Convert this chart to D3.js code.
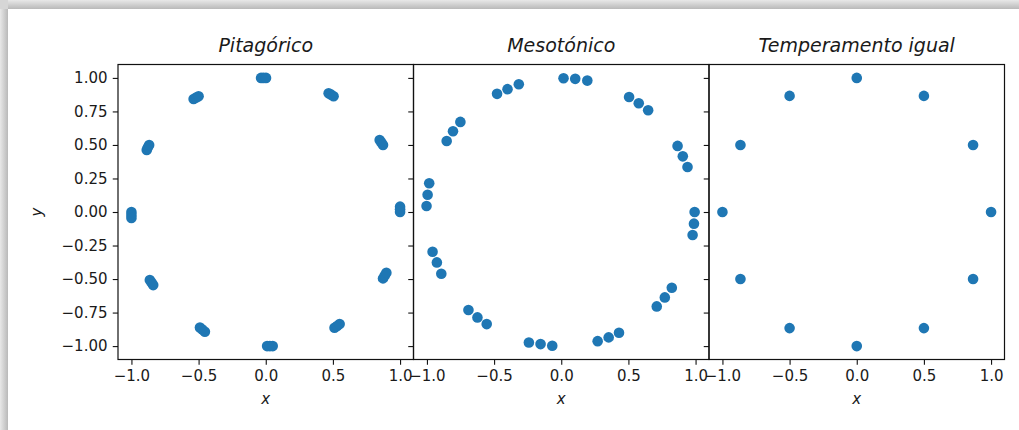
<!DOCTYPE html>
<html><head><meta charset="utf-8">
<script src="https://cdn.jsdelivr.net/npm/d3@7"></script>
<style>
html,body{margin:0;padding:0;background:#fff;}
svg{display:block;}
</style></head>
<body>
<svg id="chart" width="1019" height="430"></svg>
<script>
const panelTitles = ["Pitagórico", "Mesotónico", "Temperamento igual"];

const pitagoricoX = [-0.035,-0.017,0.002, -0.537,-0.518,-0.5, 0.468,0.487,0.505, -0.886,-0.877,-0.868,
  0.848,0.861,0.873, -1.0,-1.0,-1.0, 1.0,1.0,1.0, -0.863,-0.85,-0.838,
  -0.49,-0.472,-0.453, 0.01,0.031,0.052, 0.512,0.531,0.55, 0.873,0.886,0.898];
const pitagoricoY = [1.0,1.0,1.0, 0.843,0.853,0.863, 0.886,0.875,0.863, 0.463,0.482,0.5,
  0.537,0.519,0.5, 0.0,-0.022,-0.045, 0.04,0.02,0.0, -0.507,-0.526,-0.545,
  -0.861,-0.877,-0.893, -1.0,-1.0,-1.0, -0.863,-0.85,-0.836, -0.495,-0.474,-0.453];

const mesotonicoX = [0.017,0.104,0.194, 0.505,0.577,0.647, 0.866,0.905,0.940, 0.993,0.988,0.978,
  0.823,0.771,0.711, 0.43,0.353,0.271, -0.067,-0.154,-0.241, -0.555,-0.624,-0.691,
  -0.893,-0.926,-0.958, -1.003,-0.995,-0.983, -0.853,-0.806,-0.751, -0.478,-0.4,-0.316];
const mesotonicoY = [0.998,0.993,0.980, 0.858,0.811,0.759, 0.493,0.415,0.336, 0.0,-0.087,-0.172,
  -0.565,-0.637,-0.704, -0.900,-0.935,-0.963, -0.998,-0.985,-0.973, -0.836,-0.786,-0.731,
  -0.460,-0.376,-0.296, 0.045,0.129,0.214, 0.53,0.602,0.672, 0.881,0.916,0.953];

const igualX = [1.0, 0.866, 0.5, 0.0, -0.5, -0.866, -1.0, -0.866, -0.5, 0.0, 0.5, 0.866];
const igualY = [0.0, 0.5, 0.866, 1.0, 0.866, 0.5, 0.0, -0.5, -0.866, -1.0, -0.866, -0.5];

const xTicks = [-1.0, -0.5, 0.0, 0.5, 1.0];
const yTicks = [-1.0, -0.75, -0.5, -0.25, 0.0, 0.25, 0.5, 0.75, 1.0];
const xDomain = [-1.1, 1.1];
const yDomain = [-1.1, 1.1];

const seriesX = [pitagoricoX, mesotonicoX, igualX];
const seriesY = [pitagoricoY, mesotonicoY, igualY];

(function () {
const svg = d3.select("#chart");
const W = 1019, H = 430;
const FONT = "'DejaVu Sans', sans-serif";

// frame shadow
const defs = svg.append("defs");
const gv = defs.append("linearGradient").attr("id","gv").attr("x1",0).attr("y1",0).attr("x2",0).attr("y2",1);
gv.append("stop").attr("offset","0%").attr("stop-color","#e8e8e8");
gv.append("stop").attr("offset","100%").attr("stop-color","#b9b9b9");
const gh = defs.append("linearGradient").attr("id","gh").attr("x1",0).attr("y1",0).attr("x2",1).attr("y2",0);
gh.append("stop").attr("offset","0%").attr("stop-color","#e8e8e8");
gh.append("stop").attr("offset","100%").attr("stop-color","#b9b9b9");
svg.append("rect").attr("x",0).attr("y",0).attr("width",W).attr("height",9).attr("fill","url(#gv)");
svg.append("rect").attr("x",0).attr("y",9).attr("width",8).attr("height",H-9).attr("fill","url(#gh)");
svg.append("rect").attr("x",0).attr("y",0).attr("width",8).attr("height",9).attr("fill","#d6d6d6");

const left0 = 118, pw = 295.5, pTop = 64.5, ph = 295;
const tickLen = 5.25, tickPad = 5.25;
const fmt = d3.format(".1f");
const fmtY = d3.format(".2f");

panelTitles.forEach((title, i) => {
  const x0 = left0 + i * pw;
  const xs = d3.scaleLinear().domain(xDomain).range([x0, x0 + pw]);
  const ys = d3.scaleLinear().domain(yDomain).range([pTop + ph, pTop]);
  const g = svg.append("g");

  // points
  g.selectAll("circle").data(seriesX[i].map((v, k) => [v, seriesY[i][k]]))
    .enter().append("circle")
    .attr("cx", d => xs(d[0])).attr("cy", d => ys(d[1]))
    .attr("r", 5.3).attr("fill", "#1f77b4");

  // x axis
  const xa = g.append("g").attr("transform", `translate(0,${pTop + ph})`)
    .call(d3.axisBottom(xs).tickValues(xTicks).tickFormat(fmt).tickSize(tickLen).tickPadding(tickPad));
  // y axis
  const ya = g.append("g").attr("transform", `translate(${x0},0)`)
    .call(d3.axisLeft(ys).tickValues(yTicks).tickFormat(i === 0 ? fmtY : () => "").tickSize(tickLen).tickPadding(tickPad));
  [xa, ya].forEach(a => {
    a.select(".domain").remove();
    a.selectAll("line").attr("stroke", "#111").attr("stroke-width", 1.1);
    a.selectAll("text").attr("font-family", FONT).attr("font-size", 15).attr("fill", "#1a1a1a");
  });

  // frame
  g.append("rect").attr("x", x0).attr("y", pTop).attr("width", pw).attr("height", ph)
    .attr("fill", "none").attr("stroke", "#111").attr("stroke-width", 1.2);

  // title
  g.append("text").attr("x", x0 + pw / 2).attr("y", 52)
    .attr("text-anchor", "middle").attr("font-family", FONT).attr("font-style", "italic")
    .attr("font-size", 19).attr("fill", "#1a1a1a").text(title);

  // x label
  g.append("text").attr("x", x0 + pw / 2).attr("y", 404)
    .attr("text-anchor", "middle").attr("font-family", FONT).attr("font-style", "italic")
    .attr("font-size", 15).attr("fill", "#1a1a1a").text("x");
});

// y label
svg.append("text").attr("transform", "translate(41.5,212) rotate(-90)")
  .attr("text-anchor", "middle").attr("font-family", FONT).attr("font-style", "italic")
  .attr("font-size", 15).attr("fill", "#1a1a1a").text("y");
})();
</script>
</body></html>
